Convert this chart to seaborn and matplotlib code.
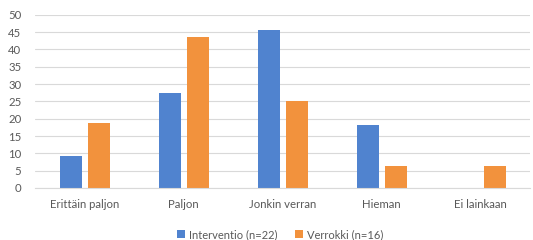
import pandas as pd
import matplotlib
matplotlib.use('Agg')
import matplotlib.pyplot as plt
import seaborn as sns

# Data (percentages)
categories = ['Erittäin paljon', 'Paljon', 'Jonkin verran', 'Hieman', 'Ei lainkaan']
interventio = [9.1, 27.3, 45.5, 18.2, 0.0]
verrokki = [18.75, 43.75, 25.0, 6.25, 6.25]
series_names = ['Interventio (n=22)', 'Verrokki (n=16)']
y_ticks = [0, 5, 10, 15, 20, 25, 30, 35, 40, 45, 50]

df = pd.DataFrame({
    'category': categories * 2,
    'value': interventio + verrokki,
    'group': [series_names[0]] * len(categories) + [series_names[1]] * len(categories),
})

sns.set_style('white')
plt.rcParams['font.family'] = ['Lato', 'DejaVu Sans']
text_color = '#595959'

fig = plt.figure(figsize=(5.33, 2.4), dpi=100)
ax = fig.add_axes([0.066, 0.217, 0.929, 0.721])

palette = {series_names[0]: '#5083CF', series_names[1]: '#F2923D'}
sns.barplot(data=df, x='category', y='value', hue='group', order=categories,
            hue_order=series_names, palette=palette, width=0.56, gap=0.21,
            saturation=1, edgecolor='none', ax=ax, legend=True)

ax.set_ylim(0, 50)
ax.set_xlim(-0.5, len(categories) - 0.5)
ax.set_yticks(y_ticks)
ax.yaxis.grid(True, color='#D9D9D9', linewidth=0.8)
ax.set_axisbelow(True)
for s in ['top', 'right', 'left']:
    ax.spines[s].set_visible(False)
ax.spines['bottom'].set_color('#D9D9D9')
ax.spines['bottom'].set_linewidth(0.8)
ax.tick_params(axis='both', length=0, labelsize=8.2, colors=text_color)
ax.tick_params(axis='y', pad=10)
ax.tick_params(axis='x', pad=8)
ax.set_xlabel('')
ax.set_ylabel('')

ax.legend(loc='center', bbox_to_anchor=(0.495, -0.27), ncol=2, frameon=False,
          fontsize=8, labelcolor=text_color, handlelength=0.7, handleheight=0.7,
          handletextpad=0.4, columnspacing=1.6)

fig.savefig('out.png', dpi=100)
